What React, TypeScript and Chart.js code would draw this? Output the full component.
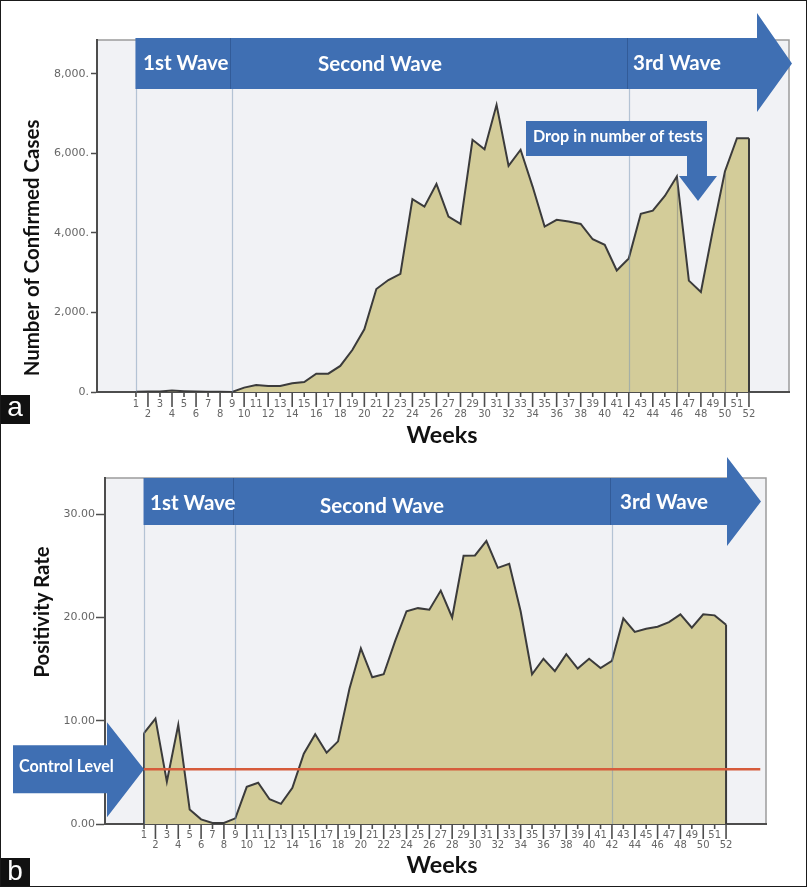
import React, { useEffect, useRef } from 'react';
import { Chart, registerables } from 'chart.js';

Chart.register(...registerables);

// ---------------- data ----------------
const weeks = [
  1, 2, 3, 4, 5, 6, 7, 8, 9, 10, 11, 12, 13, 14, 15, 16, 17, 18, 19, 20, 21, 22, 23, 24, 25, 26,
  27, 28, 29, 30, 31, 32, 33, 34, 35, 36, 37, 38, 39, 40, 41, 42, 43, 44, 45, 46, 47, 48, 49, 50, 51, 52,
];
const confirmedCases = [
  5, 10, 15, 35, 20, 10, 5, 5, 0, 110, 175, 150, 150, 220, 250, 460, 460, 655, 1055, 1575, 2590, 2815, 2970,
  4850, 4660, 5230, 4410, 4225, 6340, 6105, 7220, 5685, 6090, 5165, 4160, 4330, 4285, 4225, 3840, 3700,
  3055, 3360, 4480, 4560, 4930, 5420, 2800, 2515, 4075, 5545, 6380, 6380,
];
const positivityRate = [
  8.8, 10.2, 4.1, 9.6, 1.4, 0.45, 0.1, 0.1, 0.55, 3.6, 4.0, 2.4, 1.95, 3.5, 6.8, 8.7, 6.9, 8.0, 13.1, 17.0,
  14.2, 14.5, 17.7, 20.6, 20.9, 20.75, 22.6, 20.0, 25.97, 26.0, 27.4, 24.8, 25.2, 20.6, 14.5, 16.0, 14.8,
  16.45, 15.05, 16.0, 15.1, 15.8, 19.9, 18.6, 18.9, 19.1, 19.55, 20.3, 19.0, 20.3, 20.2, 19.3,
];
const controlLevel = 5.3;
const controlSpan = [1, 55];
const casesTicks = [0, 2000, 4000, 6000, 8000];
const rateTicks = [0, 10, 20, 30];
const waveNames = ['1st Wave', 'Second Wave', '3rd Wave'];
const waveStarts = [1, 9, 42];
const casesDropWeeks = [46, 50];

// ---------------- styles ----------------
const FILL = 'rgb(211,204,153)';
const LINE = '#3b3b3b';
const AXIS = '#4d4d4d';
const TICK = '#666666';
const BLUE = '#3f6fb3';
const PLOT_BG = '#f1f2f5';
const TITLE_FONT = 'Lato';

function fitFont(ctx: CanvasRenderingContext2D, text: string, width: number, weight = '700', family = TITLE_FONT) {
  ctx.font = `${weight} 100px ${family}`;
  const w = ctx.measureText(text).width;
  const size = (100 * width) / w;
  ctx.font = `${weight} ${size.toFixed(2)}px ${family}`;
  return size;
}

function xScaleOpts(min: number, max: number, height: number, pad: number, lh: string) {
  return {
    type: 'linear',
    min,
    max,
    afterFit: (s: any) => {
      s.height = height;
    },
    afterBuildTicks: (s: any) => {
      s.ticks = weeks.map((v) => ({ value: v }));
    },
    grid: { display: false, drawTicks: false },
    border: { display: true, color: AXIS, width: 2 },
    ticks: {
      autoSkip: false,
      maxRotation: 0,
      minRotation: 0,
      padding: pad,
      color: TICK,
      font: { family: 'DejaVu Sans', size: 10, lineHeight: lh },
      callback: (v: number) => (v % 2 === 1 ? String(v) : ['', String(v)]),
    },
  };
}

function yScaleOpts(
  max: number,
  ticks: number[],
  fmt: (v: number) => string,
  width: number,
  tickLen: number,
  pad: number
) {
  return {
    type: 'linear',
    min: 0,
    max,
    afterFit: (s: any) => {
      s.width = width;
    },
    afterBuildTicks: (s: any) => {
      s.ticks = ticks.map((v) => ({ value: v }));
    },
    grid: { display: true, drawOnChartArea: false, drawTicks: true, tickLength: tickLen, tickColor: AXIS, tickWidth: 1.5 },
    border: { display: true, color: AXIS, width: 2 },
    ticks: { padding: pad, color: TICK, font: { family: 'DejaVu Sans', size: 11 }, callback: (v: number) => fmt(v) },
  };
}

function drawPlotBg(chart: any) {
  const { ctx, chartArea: a } = chart;
  ctx.save();
  ctx.fillStyle = PLOT_BG;
  ctx.fillRect(a.left, a.top, a.right - a.left, a.bottom - a.top);
  ctx.strokeStyle = '#9c9c9c';
  ctx.lineWidth = 1.5;
  ctx.beginPath();
  ctx.moveTo(a.left, a.top);
  ctx.lineTo(a.right, a.top);
  ctx.lineTo(a.right, a.bottom);
  ctx.stroke();
  ctx.restore();
}

function drawEdges(chart: any, values: number[]) {
  const { ctx } = chart;
  const xs = chart.scales.x;
  const ys = chart.scales.y;
  ctx.save();
  ctx.strokeStyle = LINE;
  ctx.lineWidth = 2;
  const ends = [0, values.length - 1];
  ends.forEach((i) => {
    const x = xs.getPixelForValue(weeks[i]);
    ctx.beginPath();
    ctx.moveTo(x, ys.getPixelForValue(0));
    ctx.lineTo(x, ys.getPixelForValue(values[i]));
    ctx.stroke();
  });
  ctx.restore();
}

function drawRefLine(chart: any, week: number, yTop: number, color: string) {
  const { ctx, chartArea: a } = chart;
  const x = Math.round(chart.scales.x.getPixelForValue(week)) + 0.5;
  ctx.save();
  ctx.strokeStyle = color;
  ctx.lineWidth = 1.2;
  ctx.beginPath();
  ctx.moveTo(x, yTop);
  ctx.lineTo(x, a.bottom);
  ctx.stroke();
  ctx.restore();
}

function drawTickMarks(chart: any, shortLen: number, longLen: number) {
  const { ctx, chartArea: a } = chart;
  const xs = chart.scales.x;
  ctx.save();
  ctx.strokeStyle = AXIS;
  ctx.lineWidth = 1.6;
  weeks.forEach((w) => {
    const x = xs.getPixelForValue(w);
    const len = w % 2 === 1 ? shortLen : longLen;
    ctx.beginPath();
    ctx.moveTo(x, a.bottom);
    ctx.lineTo(x, a.bottom + len);
    ctx.stroke();
  });
  ctx.restore();
}

type BannerSpec = {
  top: number;
  bottom: number;
  headBase: number;
  headTop: number;
  headBottom: number;
  tip: number;
  labels: { left: number; cy: number }[];
};

function drawBanner(chart: any, b: BannerSpec) {
  const { ctx } = chart;
  const xs = chart.scales.x;
  const left = xs.getPixelForValue(waveStarts[0]) - 0.5;
  const midY = (b.top + b.bottom) / 2;
  ctx.save();
  ctx.fillStyle = BLUE;
  ctx.beginPath();
  ctx.moveTo(left, b.top);
  ctx.lineTo(b.headBase, b.top);
  ctx.lineTo(b.headBase, b.headTop);
  ctx.lineTo(b.tip, midY);
  ctx.lineTo(b.headBase, b.headBottom);
  ctx.lineTo(b.headBase, b.bottom);
  ctx.lineTo(left, b.bottom);
  ctx.closePath();
  ctx.fill();
  ctx.strokeStyle = 'rgba(40,75,130,0.55)';
  ctx.lineWidth = 1;
  waveStarts.slice(1).forEach((w) => {
    const x = Math.round(xs.getPixelForValue(w)) - 1.5;
    ctx.beginPath();
    ctx.moveTo(x, b.top);
    ctx.lineTo(x, b.bottom);
    ctx.stroke();
  });
  fitFont(ctx, waveNames[1], 124);
  ctx.fillStyle = '#ffffff';
  ctx.textBaseline = 'middle';
  ctx.textAlign = 'left';
  waveNames.forEach((name, i) => {
    ctx.fillText(name, b.labels[i].left, b.labels[i].cy);
  });
  ctx.restore();
}

function drawVerticalTitle(ctx: CanvasRenderingContext2D, text: string, cx: number, cy: number, len: number) {
  ctx.save();
  fitFont(ctx, text, len);
  ctx.fillStyle = '#111111';
  ctx.textAlign = 'center';
  ctx.textBaseline = 'middle';
  ctx.translate(cx, cy);
  ctx.rotate(-Math.PI / 2);
  ctx.fillText(text, 0, 0);
  ctx.restore();
}

function drawWeeks(ctx: CanvasRenderingContext2D, cx: number, cy: number) {
  ctx.save();
  fitFont(ctx, 'Weeks', 71);
  ctx.fillStyle = '#111111';
  ctx.textAlign = 'center';
  ctx.textBaseline = 'middle';
  ctx.fillText('Weeks', cx, cy);
  ctx.restore();
}

function drawPanelTag(ctx: CanvasRenderingContext2D, letter: string, top: number, baseline: number) {
  ctx.save();
  ctx.fillStyle = '#111111';
  ctx.fillRect(0, top, 30, 29);
  ctx.fillStyle = '#ffffff';
  ctx.font = '28px "Liberation Sans"';
  ctx.textAlign = 'center';
  ctx.textBaseline = 'alphabetic';
  ctx.fillText(letter, 15, baseline);
  ctx.restore();
}

// ---------------- panel a ----------------
function topConfig(): any {
  const plugin = {
    id: 'panelA',
    beforeDraw(chart: any) {
      drawPlotBg(chart);
    },
    afterDatasetDraw(chart: any, args: any) {
      if (args.index !== 0) return;
      drawEdges(chart, confirmedCases);
      waveStarts.forEach((w) => drawRefLine(chart, w, 89, 'rgba(120,148,180,0.5)'));
      casesDropWeeks.forEach((w) => {
        const y = chart.scales.y.getPixelForValue(confirmedCases[weeks.indexOf(w)]);
        drawRefLine(chart, w, y + 2, 'rgba(110,115,125,0.45)');
      });
    },
    afterDraw(chart: any) {
      const { ctx } = chart;
      drawTickMarks(chart, 5, 15);
      drawBanner(chart, {
        top: 38,
        bottom: 89,
        headBase: 757,
        headTop: 13,
        headBottom: 112,
        tip: 792,
        labels: [
          { left: 143, cy: 63 },
          { left: 318, cy: 64 },
          { left: 633, cy: 63 },
        ],
      });
      // "Drop in number of tests" call-out arrow
      ctx.save();
      ctx.fillStyle = BLUE;
      ctx.beginPath();
      ctx.moveTo(526, 121);
      ctx.lineTo(707, 121);
      ctx.lineTo(707, 176);
      ctx.lineTo(717, 176);
      ctx.lineTo(698, 201);
      ctx.lineTo(679, 176);
      ctx.lineTo(687, 176);
      ctx.lineTo(687, 156);
      ctx.lineTo(526, 156);
      ctx.closePath();
      ctx.fill();
      fitFont(ctx, 'Drop in number of tests', 170);
      ctx.fillStyle = '#ffffff';
      ctx.textBaseline = 'middle';
      ctx.textAlign = 'left';
      ctx.fillText('Drop in number of tests', 533, 137);
      ctx.restore();
      drawVerticalTitle(ctx, 'Number of Confirmed Cases', 32, 248, 257);
      drawWeeks(ctx, 442, 435);
      drawPanelTag(ctx, 'a', 395, 416);
    },
  };
  return {
    type: 'line',
    data: {
      datasets: [
        {
          data: weeks.map((w, i) => ({ x: w, y: confirmedCases[i] })),
          fill: 'origin',
          backgroundColor: FILL,
          borderColor: LINE,
          borderWidth: 2,
          pointRadius: 0,
          tension: 0,
        },
      ],
    },
    options: {
      animation: false,
      responsive: false,
      devicePixelRatio: 1,
      layout: { padding: { left: 0, top: 40, right: 19, bottom: 0 } },
      plugins: { legend: { display: false }, tooltip: { enabled: false } },
      scales: {
        x: xScaleOpts(-2.24, 55.33, 54, 7, '10px'),
        y: yScaleOpts(8850, casesTicks, (v) => v.toLocaleString('en-US') + '.', 97, 6, 2),
      },
    },
    plugins: [plugin],
  };
}

// ---------------- panel b ----------------
function bottomConfig(): any {
  const plugin = {
    id: 'panelB',
    beforeDraw(chart: any) {
      drawPlotBg(chart);
    },
    afterDatasetDraw(chart: any, args: any) {
      if (args.index !== 0) return;
      drawEdges(chart, positivityRate);
      waveStarts.forEach((w) => drawRefLine(chart, w, 79, 'rgba(120,148,180,0.5)'));
    },
    afterDraw(chart: any) {
      const { ctx } = chart;
      drawTickMarks(chart, 5, 15);
      drawBanner(chart, {
        top: 32,
        bottom: 79,
        headBase: 727,
        headTop: 11,
        headBottom: 100,
        tip: 761,
        labels: [
          { left: 150, cy: 57 },
          { left: 320, cy: 60 },
          { left: 620, cy: 56 },
        ],
      });
      // "Control Level" arrow
      const xs = chart.scales.x;
      const ys = chart.scales.y;
      const tipX = xs.getPixelForValue(controlSpan[0]);
      const tipY = ys.getPixelForValue(controlLevel);
      ctx.save();
      ctx.fillStyle = BLUE;
      ctx.beginPath();
      ctx.moveTo(13, tipY - 24);
      ctx.lineTo(107, tipY - 24);
      ctx.lineTo(107, tipY - 47);
      ctx.lineTo(tipX, tipY);
      ctx.lineTo(107, tipY + 48);
      ctx.lineTo(107, tipY + 24);
      ctx.lineTo(13, tipY + 24);
      ctx.closePath();
      ctx.fill();
      fitFont(ctx, 'Control Level', 95);
      ctx.fillStyle = '#ffffff';
      ctx.textBaseline = 'middle';
      ctx.textAlign = 'left';
      ctx.fillText('Control Level', 19, tipY - 2);
      ctx.restore();
      drawVerticalTitle(ctx, 'Positivity Rate', 42, 166, 131);
      drawWeeks(ctx, 442, 419);
      drawPanelTag(ctx, 'b', 412, 434);
    },
  };
  return {
    type: 'line',
    data: {
      datasets: [
        {
          data: weeks.map((w, i) => ({ x: w, y: positivityRate[i] })),
          fill: 'origin',
          backgroundColor: FILL,
          borderColor: LINE,
          borderWidth: 2,
          pointRadius: 0,
          tension: 0,
          order: 1,
        },
        {
          data: controlSpan.map((w) => ({ x: w, y: controlLevel })),
          fill: false,
          borderColor: '#d65b3b',
          borderWidth: 2.5,
          pointRadius: 0,
          order: 0,
        },
      ],
    },
    options: {
      animation: false,
      responsive: false,
      devicePixelRatio: 1,
      layout: { padding: { left: 0, top: 32, right: 42, bottom: 0 } },
      plugins: { legend: { display: false }, tooltip: { enabled: false } },
      scales: {
        x: xScaleOpts(-2.42, 55.5, 63, 7, '9.5px'),
        y: yScaleOpts(33.5, rateTicks, (v) => v.toFixed(2), 105, 9, 1),
      },
    },
    plugins: [plugin],
  };
}

export default function App() {
  const topRef = useRef<HTMLCanvasElement>(null);
  const botRef = useRef<HTMLCanvasElement>(null);
  useEffect(() => {
    const c1 = new Chart(topRef.current as HTMLCanvasElement, topConfig());
    const c2 = new Chart(botRef.current as HTMLCanvasElement, bottomConfig());
    return () => {
      c1.destroy();
      c2.destroy();
    };
  }, []);
  return (
    <div style={{ position: 'fixed', left: 0, top: 0, width: 808, height: 887, background: '#ffffff', overflow: 'hidden' }}>
      <canvas
        ref={topRef}
        width={808}
        height={446}
        style={{ position: 'absolute', left: 0, top: 0, width: 808, height: 446 }}
      />
      <canvas
        ref={botRef}
        width={808}
        height={441}
        style={{ position: 'absolute', left: 0, top: 446, width: 808, height: 441 }}
      />
      <div
        style={{
          position: 'absolute',
          left: 0,
          top: 0,
          width: 807,
          height: 887,
          border: '1px solid #1a1a1a',
          boxSizing: 'border-box',
          pointerEvents: 'none',
        }}
      />
    </div>
  );
}
